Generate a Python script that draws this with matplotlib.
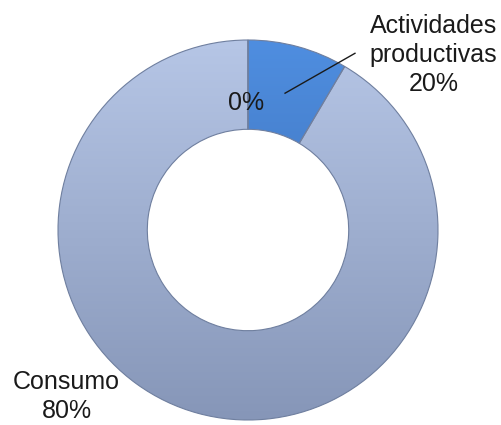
import numpy as np
import matplotlib.pyplot as plt
from matplotlib.colors import LinearSegmentedColormap

# data (slice sizes as drawn, labels as printed on the chart)
names = ['', 'Actividades\nproductivas', 'Consumo']
sizes = [0, 8.5, 91.5]
shown = ['0%', '20%', '80%']
tops = ['#b6c6e6', '#4f8ee0', '#b6c6e6']
bottoms = ['#8696b8', '#3564a8', '#8696b8']

fig = plt.figure(figsize=(5.01, 4.25), dpi=100)
ax = fig.add_axes([0, 0, 1, 1])
ax.set_aspect('equal')
ax.axis('off')

wedges, _ = ax.pie(sizes, startangle=90, counterclock=False, radius=1,
                   wedgeprops=dict(width=0.47, edgecolor='#6f7f9f', linewidth=0.8))

# vertical shading on each slice
for w, c1, c2 in zip(wedges, tops, bottoms):
    cmap = LinearSegmentedColormap.from_list('g', [c2, c1])
    w.set_facecolor('none')
    grad = np.linspace(0, 1, 256).reshape(-1, 1)
    im = ax.imshow(grad, cmap=cmap, extent=(-1, 1, -1, 1), origin='lower',
                   aspect='auto', zorder=0.5)
    im.set_clip_path(w)

ax.set_xlim(-248 / 190, 253 / 190)
ax.set_ylim(-195 / 190, 230 / 190)

fs = 18
tc = '#1a1a1a'
ax.text(-0.01, 0.67, shown[0], ha='center', va='center', fontsize=fs,
        family='Liberation Sans', color=tc)
ax.plot([0.195, 0.563], [0.72, 0.93], color=tc, lw=1)
ax.text(0.975, 0.92, names[1] + '\n' + shown[1], ha='center', va='center',
        fontsize=fs, family='Liberation Sans', color=tc, linespacing=1.25)
ax.text(-0.955, -0.875, names[2] + '\n' + shown[2], ha='center', va='center',
        fontsize=fs, family='Liberation Sans', color=tc, linespacing=1.25)

fig.savefig('out.png', dpi=100)
